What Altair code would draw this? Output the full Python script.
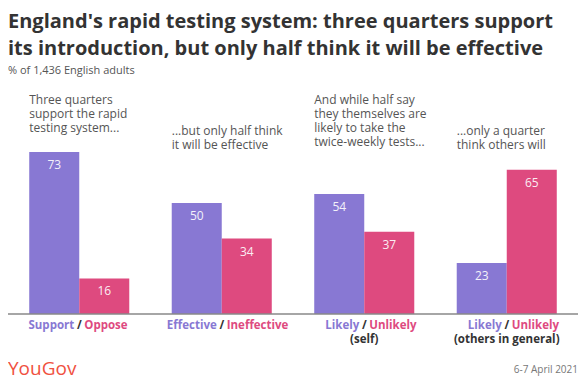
import altair as alt
import pandas as pd

# ---- data ----
groups = ["Support/Oppose", "Effective/Ineffective", "Likely/Unlikely (self)", "Likely/Unlikely (others)"]
pos_labels = ["Support", "Effective", "Likely", "Likely"]
neg_labels = ["Oppose", "Ineffective", "Unlikely", "Unlikely"]
sub_labels = ["", "", "(self)", "(others in general)"]
pos_values = [73, 50, 54, 23]
neg_values = [16, 34, 37, 65]
annotations = [
    ["Three quarters", "support the rapid", "testing system..."],
    ["...but only half think", "it will be effective"],
    ["And while half say", "they themselves are", "likely to take the", "twice-weekly tests..."],
    ["...only a quarter", "think others will"],
]
title_lines = ["England's rapid testing system: three quarters support",
               "its introduction, but only half think it will be effective"]
subtitle = "% of 1,436 English adults"
source = "YouGov"
date_text = "6-7 April 2021"

PURPLE = "#8878d3"
PINK = "#de4a7f"
FONT = "Open Sans"

rows = []
for g, pv, nv in zip(groups, pos_values, neg_values):
    rows.append({"group": g, "series": "pos", "value": pv})
    rows.append({"group": g, "series": "neg", "value": nv})
bars_df = pd.DataFrame(rows)

lab_df = pd.DataFrame({"group": groups, "pos": pos_labels, "neg": neg_labels, "sub": sub_labels})
ann_df = pd.DataFrame({"group": groups, "text": annotations, "level": [0, 1, 0, 1]})

W, H = 570, 222
xscale = alt.Scale(domain=groups, paddingInner=0.298, paddingOuter=0.149)
X = alt.X("group:N", scale=xscale, axis=None, sort=groups)
XOFF = alt.XOffset("series:N", sort=["pos", "neg"], scale=alt.Scale(paddingInner=0, paddingOuter=0))

base = alt.Chart(bars_df)

bars = base.mark_bar().encode(
    x=X,
    xOffset=XOFF,
    y=alt.Y("value:Q", scale=alt.Scale(domain=[0, 100]), axis=None),
    color=alt.Color("series:N", scale=alt.Scale(domain=["pos", "neg"], range=[PURPLE, PINK]), legend=None),
)

values = base.mark_text(color="white", font=FONT, fontSize=12, baseline="middle", dy=13, opacity=0.9).encode(
    x=X,
    xOffset=XOFF,
    y=alt.Y("value:Q", scale=alt.Scale(domain=[0, 100])),
    text="value:Q",
)

rule = alt.Chart(pd.DataFrame({"y": [0]})).mark_rule(color="#888888", strokeWidth=1.5).encode(
    y=alt.Y("y:Q", scale=alt.Scale(domain=[0, 100])),
    x=alt.value(0), x2=alt.value(W),
)

ann_base = alt.Chart(ann_df).mark_text(
    align="left", baseline="middle", font=FONT, fontSize=12, color="#555555", lineHeight=14
)
XA = alt.X("group:N", scale=xscale, axis=None, sort=groups, bandPosition=0)
ann_top = ann_base.transform_filter("datum.level == 0").encode(x=XA, y=alt.value(8), text="text")
ann_low = ann_base.transform_filter("datum.level == 1").encode(x=XA, y=alt.value(39), text="text")

lab = alt.Chart(lab_df)
lab_pos = lab.mark_text(align="right", baseline="middle", font=FONT, fontSize=11.5, fontWeight="bold",
                        color=PURPLE, dx=-5).encode(x=X, y=alt.value(234), text="pos:N")
lab_slash = lab.mark_text(align="center", baseline="middle", font=FONT, fontSize=11.5, fontWeight="bold",
                          color="#333333").encode(x=X, y=alt.value(234), text=alt.value("/"))
lab_neg = lab.mark_text(align="left", baseline="middle", font=FONT, fontSize=11.5, fontWeight="bold",
                        color=PINK, dx=5).encode(x=X, y=alt.value(234), text="neg:N")
lab_sub = lab.mark_text(align="center", baseline="middle", font=FONT, fontSize=11.5, fontWeight="bold",
                        color="#333333").encode(x=X, y=alt.value(248), text="sub:N")

foot = alt.Chart(pd.DataFrame({"s": [source], "d": [date_text]}))
logo = foot.mark_text(align="left", baseline="middle", font=FONT, fontSize=19, color="#f0513f").encode(
    x=alt.value(0), y=alt.value(277), text="s:N")
date = foot.mark_text(align="right", baseline="middle", font=FONT, fontSize=10, color="#777777").encode(
    x=alt.value(W), y=alt.value(278), text="d:N")

chart = alt.layer(
    bars, values, rule, ann_top, ann_low, lab_pos, lab_slash, lab_neg, lab_sub, logo, date
).properties(
    width=W, height=H,
    title=alt.TitleParams(
        text=title_lines, subtitle=subtitle, anchor="start", frame="group",
        font=FONT, fontSize=20, fontWeight="bold", color="#333333", lineHeight=27,
        subtitleFont=FONT, subtitleFontSize=11, subtitleColor="#555555", subtitlePadding=6,
        offset=16,
    ),
    autosize=alt.AutoSizeParams(type="none"),
    padding={"left": 0, "top": 84, "right": 0, "bottom": 68},
).configure_view(stroke=None)

chart.save("out.html", embed_options={"renderer": "svg", "actions": False})
